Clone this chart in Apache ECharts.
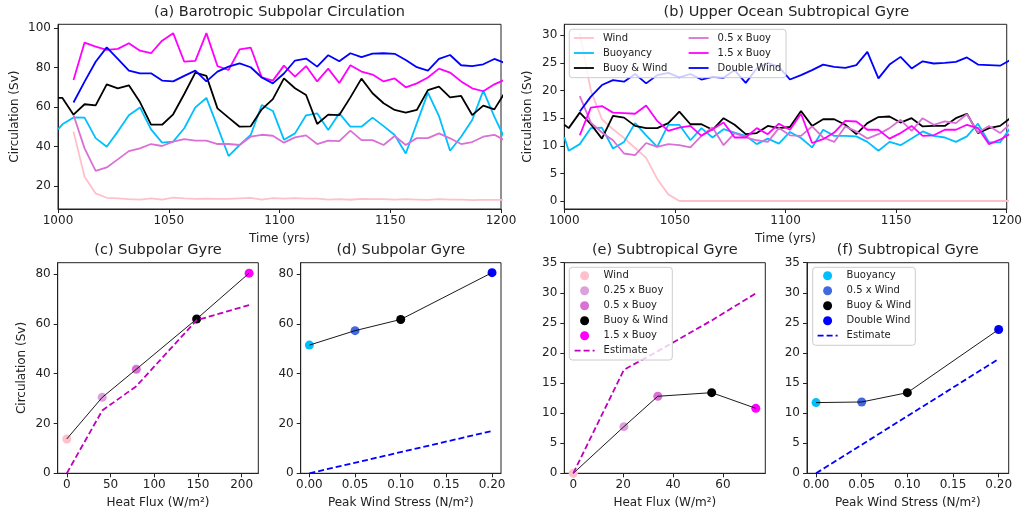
<!DOCTYPE html>
<html><head><meta charset="utf-8">
<script src="https://cdn.jsdelivr.net/npm/echarts@6/dist/echarts.min.js"></script>
<style>html,body{margin:0;padding:0;background:#fff}#c{width:1025px;height:516px}</style>
</head><body><div id="c"></div>
<script>
// ---------- data ----------
const years = [1000,1002,1007,1012,1017,1022,1027,1032,1037,1042,1047,1052,1057,1062,1067,1072,1077,1082,1087,1092,1097,1102,1107,1112,1117,1122,1127,1132,1137,1142,1147,1152,1157,1162,1167,1172,1177,1182,1187,1192,1197,1202];

// (a) Barotropic subpolar circulation (Sv)
const aWind = [null,null,47.5,24.6,16.1,13.9,13.6,13.2,13.0,13.6,13.0,14.0,13.6,13.3,13.5,13.3,13.3,13.6,13.9,13.0,13.7,13.5,13.7,13.5,13.5,13.0,13.2,12.9,13.3,13.2,13.2,13.0,13.2,13.0,12.8,13.2,13.0,13.0,12.7,12.8,12.8,12.8];
const aBuoy = [48.6,51.2,54.7,54.6,44.2,39.8,47.5,55.8,59.8,48.6,41.9,42.4,49.2,59.8,64.6,50,35.1,40.7,45.8,61,58,43.4,46.6,55.8,56.8,48.3,56.8,50,50,54.6,50.3,45.8,36.4,51.7,67.3,55.4,37.8,44.9,53.4,68.3,55.1,43.2];
const aBuoyWind = [64.6,64.6,56.1,61.4,60.8,71.5,69.5,71,62.5,51,51,56.3,66.6,77.5,75.8,59.3,54.6,50,50.2,58.8,64,74.5,69.5,66.1,51.4,56.1,55.9,64.9,74.4,67,61.9,58.5,57.1,58.5,68.6,70.3,64.9,65.6,55.9,60.7,58.8,67.8];
const aHalfBuoy = [null,null,55.9,39,27.6,29.3,33.4,37.6,39,41.2,40.2,42.4,43.7,42.9,42.9,41.2,41.2,40.7,44.9,45.9,45.4,41.9,44.6,45.6,41.2,42.9,42.7,48,43.2,43.2,40.7,45.3,40.7,44.2,44.2,46.6,44.1,41.2,42.2,44.9,45.9,42.9];
const aOneHalfBuoy = [null,null,73.7,92.7,90.7,89,89.5,92.4,88.6,87.3,93.7,97.5,83,83.4,97.5,80.8,78.8,89.3,90.2,75,73.4,81,75.4,80.8,73,79.5,72.2,81.2,78,76.5,73,74.5,70,72,75,79.5,77.5,73,69.5,68,71.5,74];
const aDoubleWind = [null,null,62.3,72.9,83,90.3,84.4,78.5,77.1,77.1,73.4,73,75.8,78.5,73,78,80.5,82.2,80.2,75,72,77,83.6,84.6,80.5,86.3,83.2,87.3,85.3,87.1,87.3,87,83.9,80.2,78.5,84.4,86.4,81.2,80.8,81.7,84.4,82.2];

// (b) Upper ocean subtropical gyre (Sv)
const bWind = [null,null,30.4,20,14.8,13,11.4,9.6,7.8,4,1.2,0,0,0,0,0,0,0,0,0,0,0,0,0,0,0,0,0,0,0,0,0,0,0,0,0,0,0,0,0,0,0];
const bBuoy = [11.6,9.1,10.3,13.2,13.3,9.5,10.7,14.1,11.9,9.8,13.8,13.8,11,13.2,11.5,13,12.4,11.8,10.3,11.3,10.4,12.5,11.4,9.7,12.9,11.8,11.8,11.7,10.7,9.1,10.7,10.1,11.3,12.6,11.8,11.5,10.7,11.7,14,10.6,10.6,13.5];
const bBuoyWind = [13.8,13.2,16,13.9,11.3,15.4,15.1,13.6,13.2,13.2,14.1,16.2,13.9,13.9,12.9,15,13.8,12.1,12.3,13.6,13.2,13.4,16.3,13.6,14.8,14.8,13.8,12.1,14.1,15.2,15.3,14.2,15,13.5,13.6,13.6,15,15.8,12.3,13.2,13.6,15.1];
const bHalfBuoy = [null,null,19,14.2,12.4,11,8.6,8.3,10.5,9.8,10.3,10.1,9.7,11.8,13.3,10.1,12.3,11.5,11,10.7,13.2,11.9,11.8,13.5,11.5,10.7,13.5,12.6,11.3,12.1,13.2,14.7,12.7,15,13.8,14.4,14.1,15.7,12.4,13.6,12.3,14.1];
const bOneHalfBuoy = [null,null,11.9,16.9,17.2,16,15.9,15.8,17.3,14.5,12.7,13.3,13.6,11.8,13,14.2,11.5,11.5,13.2,12.1,14,12.9,15.8,10.5,11.2,12.4,14.5,14.4,12.9,12.9,11.3,12.3,13.6,11.8,11.9,12.9,12.9,13.8,13.2,10.3,11.1,12.3];
const bDoubleWind = [null,null,16.2,18.9,21,21.9,21.6,23,21.3,22.8,23.2,22.4,23,22,22.5,22.3,23.7,21.4,24,25,24.3,22,22.8,23.7,24.7,24.3,24.1,24.6,27,22.2,24.7,26.1,24,25.3,24.9,25,25.2,26,24.7,24.6,24.5,25.6];

// (c) subpolar gyre vs heat flux
const cNames = ['Wind','0.25 x Buoy','0.5 x Buoy','Buoy & Wind','1.5 x Buoy'];
const cHeat = [0,40.5,79.5,148.5,208.5];
const cCirc = [13.8,30.5,41.8,62,80.4];
const cEstimate = [0,25.2,35,61.5,67.6];

// (d) subpolar gyre vs wind stress
const dNames = ['Buoyancy','0.5 x Wind','Buoy & Wind','Double Wind'];
const dStress = [0,0.05,0.1,0.2];
const dCirc = [51.5,57.3,61.8,80.6];
const dEstStress = [0,0.2];
const dEstimate = [0,17];

// (e) subtropical gyre vs heat flux
const eNames = ['Wind','0.25 x Buoy','0.5 x Buoy','Buoy & Wind','1.5 x Buoy'];
const eHeat = [0,20.3,33.9,55.5,73.2];
const eCirc = [0,7.75,12.8,13.4,10.8];
const eEstimate = [0,17.2,20.3,25.4,29.9];

// (f) subtropical gyre vs wind stress
const fNames = ['Buoyancy','0.5 x Wind','Buoy & Wind','Double Wind'];
const fStress = [0,0.05,0.1,0.2];
const fCirc = [11.75,11.85,13.4,23.9];
const fEstStress = [0,0.2];
const fEstimate = [0,19];

// tick labels
const timeTicks = [1000,1050,1100,1150,1200];
const aYTicks = [20,40,60,80,100];
const bYTicks = [0,5,10,15,20,25,30];
const cXTicks = [0,50,100,150,200];
const cdYTicks = [0,20,40,60,80];
const stressTicks = [0,0.05,0.10,0.15,0.20];
const eXTicks = [0,20,40,60];
const efYTicks = [0,5,10,15,20,25,30,35];

// ---------- styling ----------
const FONT = 'DejaVu Sans';
const TXT = '#222';
const colors = {
  'Wind':'#ffc0cb','Buoyancy':'#00bfff','Buoy & Wind':'#000000','0.5 x Buoy':'#da70d6',
  '1.5 x Buoy':'#ff00ff','Double Wind':'#0000ff','0.25 x Buoy':'#dda0dd','0.5 x Wind':'#4169e1'
};

const grids = [
  {left:58, top:24.3, width:443, height:184.7},
  {left:564.3, top:24.3, width:444, height:184.7},
  {left:57.7, top:262.7, width:200.6, height:210.6},
  {left:300.7, top:262.7, width:200.3, height:210.6},
  {left:564.3, top:262.7, width:201, height:210.6},
  {left:807, top:262.7, width:201.7, height:210.6}
].map(g => Object.assign({show:true, borderColor:'#222', borderWidth:1, backgroundColor:'transparent'}, g));

function axis(gi, min, max, ticks, name, gap, fmt, isY) {
  return {
    type:'value', gridIndex:gi, min:min, max:max,
    axisLine:{show:true, onZero:false, lineStyle:{color:'#222', width:1}}, splitLine:{show:false},
    axisTick:{show:true, inside:false, length:4, lineStyle:{color:'#222', width:1}, customValues:ticks},
    axisLabel:{show:true, customValues:ticks, margin: isY ? 7 : 6, color:TXT, fontSize:12, fontFamily:FONT,
      formatter: fmt || (v => String(v))},
    name: name || '', nameLocation:'middle', nameGap: gap || 0,
    nameTextStyle:{color:TXT, fontSize:12, fontFamily:FONT}
  };
}
const f2 = v => v.toFixed(2);

const xAxes = [
  axis(0, 1000, 1200, timeTicks, 'Time (yrs)', 24),
  axis(1, 1000, 1200, timeTicks, 'Time (yrs)', 24),
  axis(2, -10.4, 219, cXTicks, 'Heat Flux (W/m²)', 24),
  axis(3, -0.0095, 0.2098, stressTicks, 'Peak Wind Stress (N/m²)', 24, f2),
  axis(4, -3.6, 77, eXTicks, 'Heat Flux (W/m²)', 24),
  axis(5, -0.0099, 0.211, stressTicks, 'Peak Wind Stress (N/m²)', 24, f2)
];
const yAxes = [
  axis(0, 8.2, 102, aYTicks, 'Circulation (Sv)', 37, null, true),
  axis(1, -1.45, 32, bYTicks, 'Circulation (Sv)', 30, null, true),
  axis(2, 0, 84.6, cdYTicks, 'Circulation (Sv)', 30, null, true),
  axis(3, 0, 84.6, cdYTicks, '', 0, null, true),
  axis(4, 0, 35, efYTicks, '', 0, null, true),
  axis(5, 0, 35, efYTicks, '', 0, null, true)
];

const pairs = (xs, ys) => xs.map((x,i)=>[x, ys[i]]).filter(p => p[1] !== null);

function tsLine(prefix, idx, name, vals) {
  return {type:'line', name: prefix + name, xAxisIndex:idx, yAxisIndex:idx, data: pairs(years, vals),
    symbol:'none', clip:true, lineStyle:{color:colors[name], width:1.8}, itemStyle:{color:colors[name]}, z:2};
}
const series = [];
const tsOrder = ['Wind','Buoyancy','Buoy & Wind','0.5 x Buoy','1.5 x Buoy','Double Wind'];
const aVals = [aWind,aBuoy,aBuoyWind,aHalfBuoy,aOneHalfBuoy,aDoubleWind];
const bVals = [bWind,bBuoy,bBuoyWind,bHalfBuoy,bOneHalfBuoy,bDoubleWind];
tsOrder.forEach((n,i)=>series.push(tsLine('a:', 0, n, aVals[i])));
tsOrder.forEach((n,i)=>series.push(tsLine('b:', 1, n, bVals[i])));

function scatterPanel(prefix, idx, names, xs, ys, estX, estY, estColor) {
  names.forEach((n,i)=>series.push({type:'scatter', name: prefix + n, xAxisIndex:idx, yAxisIndex:idx,
    data:[[xs[i], ys[i]]], symbol:'circle', symbolSize:9, itemStyle:{color:colors[n], opacity:1}, z:2}));
  series.push({type:'line', name: prefix + 'link', xAxisIndex:idx, yAxisIndex:idx, data: pairs(xs, ys),
    symbol:'none', lineStyle:{color:'#000', width:0.9}, itemStyle:{color:'#000'}, z:3});
  series.push({type:'line', name: prefix + 'Estimate', xAxisIndex:idx, yAxisIndex:idx, data: pairs(estX, estY),
    symbol:'none', lineStyle:{color:estColor, width:1.8, type:[6,3]}, itemStyle:{color:estColor}, z:3});
}
scatterPanel('c:', 2, cNames, cHeat, cCirc, cHeat, cEstimate, '#bf00bf');
scatterPanel('d:', 3, dNames, dStress, dCirc, dEstStress, dEstimate, '#0000ff');
scatterPanel('e:', 4, eNames, eHeat, eCirc, eHeat, eEstimate, '#bf00bf');
scatterPanel('f:', 5, fNames, fStress, fCirc, fEstStress, fEstimate, '#0000ff');

const strip = n => n.slice(2);
const hideSym = {opacity:0};
function legend(data, left, top, itemHeight) {
  return {show:true, orient:'vertical', left:left, top:top, padding:0, itemWidth:20, itemHeight:itemHeight,
    itemGap:5, data:data, formatter:strip, selectedMode:false, z:60,
    textStyle:{fontSize:10, fontFamily:FONT, color:TXT, padding:[0,0,0,4]},
    lineStyle:{width:1.8}};
}
const lineItem = n => ({name:n, itemStyle:hideSym});
const legends = [
  legend(['b:Wind','b:Buoyancy','b:Buoy & Wind'].map(lineItem), 573, 33, 10),
  legend(['b:0.5 x Buoy','b:1.5 x Buoy','b:Double Wind'].map(lineItem), 687.7, 33, 10),
  legend(['e:Wind','e:0.25 x Buoy','e:0.5 x Buoy','e:Buoy & Wind','e:1.5 x Buoy',lineItem('e:Estimate')], 573.7, 270.7, 9),
  legend(['f:Buoyancy','f:0.5 x Wind','f:Buoy & Wind','f:Double Wind',lineItem('f:Estimate')], 816.7, 270.7, 9)
];

function frame(x,y,w,h){
  return {type:'rect', z:50, shape:{x:x,y:y,width:w,height:h,r:3},
    style:{fill:'rgba(255,255,255,0.8)', stroke:'#cccccc', lineWidth:1}};
}
function title(t,x,y){
  return {type:'text', z:50, x:x, y:y, style:{text:t, fill:TXT, fontSize:14.5, fontFamily:FONT, align:'center', verticalAlign:'middle'}};
}
const graphics = [
  frame(569.3, 29.3, 216.7, 48.4),
  frame(569.3, 267.3, 103, 92.7),
  frame(812.7, 267.3, 102.6, 78),
  title('(a) Barotropic Subpolar Circulation', 279.5, 12.7),
  title('(b) Upper Ocean Subtropical Gyre', 786.3, 12.7),
  title('(c) Subpolar Gyre', 158, 250.3),
  title('(d) Subpolar Gyre', 400.8, 250.3),
  title('(e) Subtropical Gyre', 664.8, 250.3),
  title('(f) Subtropical Gyre', 907.8, 250.3)
];

const chart = echarts.init(document.getElementById('c'), null, {renderer:'canvas'});
chart.setOption({
  animation:false, backgroundColor:'#fff',
  textStyle:{fontFamily:FONT},
  grid:grids, xAxis:xAxes, yAxis:yAxes, series:series, legend:legends, graphic:graphics
});
</script></body></html>
